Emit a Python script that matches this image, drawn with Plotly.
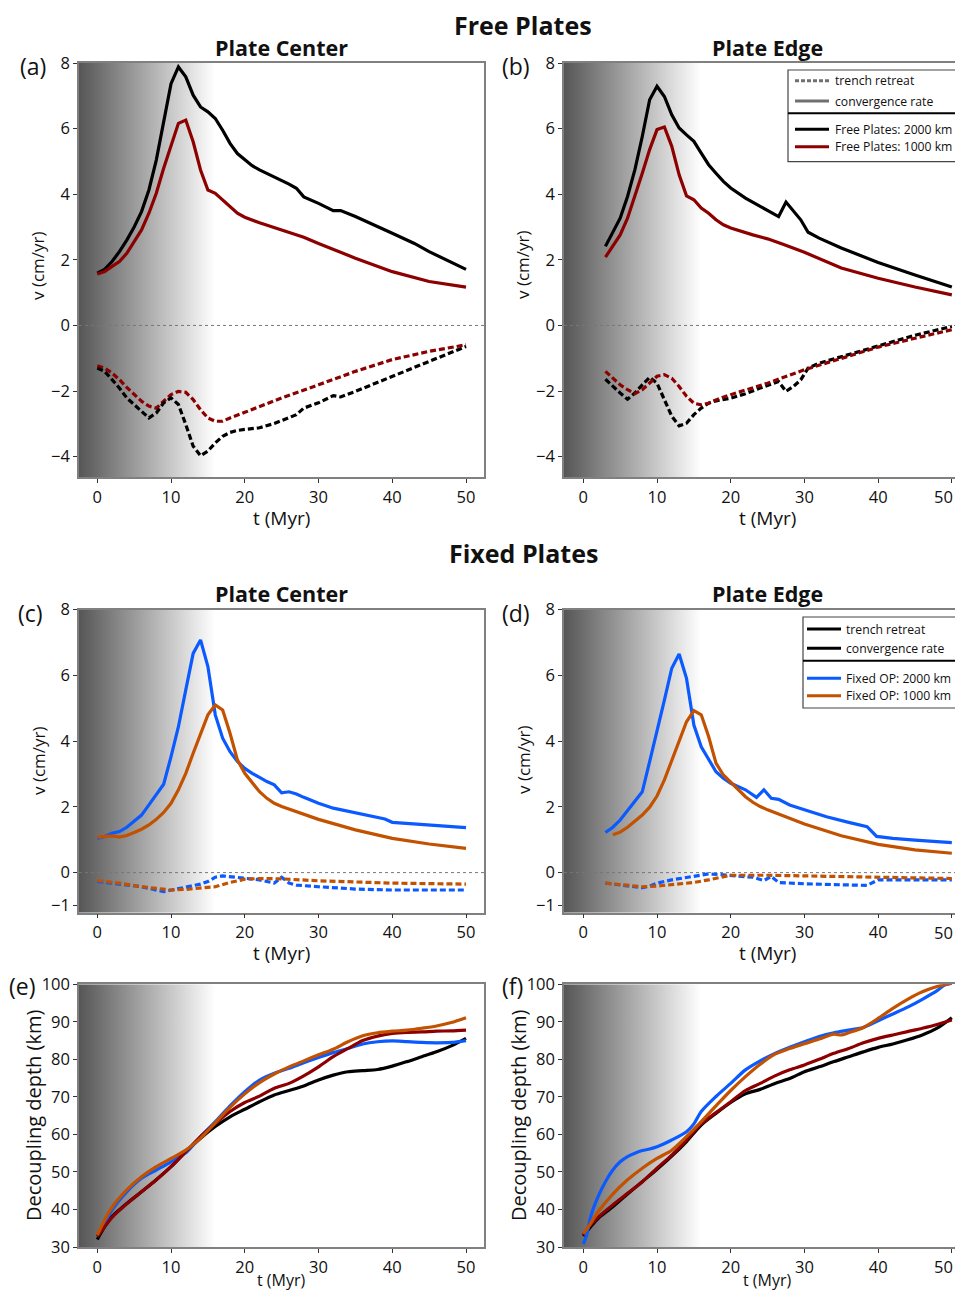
import plotly.graph_objects as go

W, H = 947, 1283   # fits inside the 963x1299 window together with the 8px page margin
OFF = 8            # page body margin compensation

# ---------------- DATA ----------------
# (a) Free plates, plate center
a_t_conv2000 = [0,1,2,3,4,5,6,7,8,9,10,11,12,13,14,15,16,17,18,19,20,21,22,24,26,27,28,30,32,33,35,40,43,45,50]
a_v_conv2000 = [1.59,1.71,1.95,2.25,2.6,3.0,3.47,4.13,5.04,6.26,7.37,7.88,7.58,7.02,6.66,6.51,6.31,5.95,5.55,5.24,5.04,4.87,4.74,4.53,4.31,4.18,3.92,3.72,3.5,3.5,3.32,2.81,2.5,2.25,1.71]
a_t_conv1000 = [0,1,2,3,4,5,6,7,8,9,10,11,12,13,14,15,16,17,18,19,20,22,25,28,30,35,40,45,50]
a_v_conv1000 = [1.57,1.64,1.8,1.95,2.2,2.56,2.91,3.42,4.03,4.79,5.45,6.16,6.26,5.6,4.74,4.13,4.03,3.82,3.62,3.42,3.3,3.13,2.91,2.69,2.5,2.05,1.64,1.34,1.17]
a_t_ret2000 = [0,1,2,3,4,5,6,7,8,9,10,11,12,13,14,15,16,17,18,19,20,22,24,26,27,28,30,32,33,35,40,45,50]
a_v_ret2000 = [-1.3,-1.4,-1.65,-1.91,-2.21,-2.41,-2.64,-2.82,-2.67,-2.36,-2.21,-2.41,-3.02,-3.68,-3.97,-3.83,-3.58,-3.38,-3.26,-3.2,-3.17,-3.12,-2.99,-2.82,-2.72,-2.52,-2.36,-2.14,-2.18,-2.01,-1.55,-1.1,-0.64]
a_t_ret1000 = [0,1,2,3,4,5,6,7,8,9,10,11,12,13,14,15,16,17,18,20,25,30,35,40,45,50]
a_v_ret1000 = [-1.23,-1.3,-1.45,-1.65,-1.89,-2.11,-2.31,-2.46,-2.52,-2.31,-2.11,-2.01,-2.04,-2.26,-2.57,-2.82,-2.92,-2.92,-2.82,-2.65,-2.21,-1.81,-1.4,-1.04,-0.79,-0.59]

# (b) Free plates, plate edge
b_t_conv2000 = [3,4,5,6,7,8,9,10,11,12,13,14,15,16,17,18,19,20,22,24,26.5,27.5,28.5,29.5,30.5,32,35,40,45,50]
b_v_conv2000 = [2.41,2.82,3.27,3.93,4.75,5.76,6.88,7.29,6.98,6.42,6.02,5.81,5.61,5.25,4.9,4.64,4.39,4.19,3.88,3.63,3.32,3.76,3.48,3.22,2.84,2.66,2.36,1.92,1.54,1.17]
b_t_conv1000 = [3,4,5,6,7,8,9,10,11,12,13,14,15,16,17,18,19,20,23,25,27,30,35,40,45,50]
b_v_conv1000 = [2.08,2.41,2.76,3.27,3.93,4.64,5.36,5.97,6.05,5.46,4.59,3.95,3.83,3.58,3.42,3.22,3.07,2.97,2.76,2.64,2.48,2.23,1.75,1.44,1.17,0.93]
b_t_ret2000 = [3,4,5,6,7,8,9,10,11,12,13,14,15,16,17,18,20,22,24,26.5,27.5,28.5,29.5,30.5,32,35,40,45,50]
b_v_ret2000 = [-1.64,-1.86,-2.06,-2.25,-2.06,-1.81,-1.58,-1.76,-2.27,-2.77,-3.06,-2.98,-2.72,-2.52,-2.37,-2.3,-2.22,-2.08,-1.91,-1.71,-2.01,-1.86,-1.66,-1.3,-1.15,-0.95,-0.64,-0.3,-0.03]
b_t_ret1000 = [3,4,5,6,7,8,9,10,11,12,13,14,15,16,17,18,20,25,30,35,40,45,50]
b_v_ret1000 = [-1.4,-1.61,-1.81,-1.96,-2.08,-1.96,-1.74,-1.55,-1.5,-1.61,-1.86,-2.16,-2.37,-2.42,-2.37,-2.27,-2.11,-1.76,-1.35,-1.0,-0.66,-0.39,-0.13]

# (c) Fixed plates, plate center
c_t_conv2000 = [0,1,2,3,4,5,6,7,8,9,10,11,12,13,14,15,16,17,18,19,20,21,22,23,24,25,26,27,28,30,32,35,38,39,40,42,45,50]
c_v_conv2000 = [1.04,1.1,1.2,1.25,1.38,1.55,1.75,2.06,2.39,2.69,3.53,4.44,5.56,6.67,7.08,6.27,4.8,4.09,3.68,3.38,3.17,3.02,2.9,2.77,2.67,2.43,2.46,2.39,2.29,2.11,1.96,1.81,1.68,1.63,1.53,1.5,1.45,1.37]
c_t_conv1000 = [0,1,2,3,4,5,6,7,8,9,10,11,12,13,14,15,16,17,18,19,20,21,22,23,24,25,27,30,35,40,45,50]
c_v_conv1000 = [1.08,1.1,1.12,1.08,1.13,1.22,1.32,1.45,1.62,1.83,2.11,2.52,3.02,3.63,4.24,4.8,5.1,4.95,4.24,3.43,3.02,2.72,2.46,2.26,2.11,2.01,1.86,1.62,1.3,1.04,0.87,0.74]
c_t_ret2000 = [0,3,6,9,10,12,14,15,16,17,18,20,22,24,25,26,27,30,35,40,50]
c_v_ret2000 = [-0.27,-0.34,-0.43,-0.58,-0.53,-0.43,-0.35,-0.27,-0.14,-0.1,-0.12,-0.18,-0.22,-0.32,-0.14,-0.32,-0.38,-0.43,-0.5,-0.53,-0.53]
c_t_ret1000 = [0,3,6,9,10,12,15,16,18,20,22,25,30,35,40,50]
c_v_ret1000 = [-0.24,-0.32,-0.43,-0.51,-0.53,-0.51,-0.46,-0.43,-0.3,-0.2,-0.18,-0.19,-0.25,-0.29,-0.32,-0.35]

# (d) Fixed plates, plate edge
d_t_conv2000 = [3,4,5,6,7,8,9,10,11,12,13,14,15,16,17,18,19,20,22,23.5,24.5,25.5,26.5,28,30,33,36,38.5,39.8,42,45,50]
d_v_conv2000 = [1.22,1.38,1.6,1.89,2.16,2.46,3.38,4.29,5.25,6.22,6.65,5.91,4.49,3.83,3.43,3.07,2.87,2.72,2.52,2.29,2.52,2.26,2.23,2.06,1.91,1.7,1.53,1.4,1.1,1.04,0.99,0.91]
d_t_conv1000 = [4,5,6,7,8,9,10,11,12,13,14,15,16,17,18,19,20,21,22,23,24,25,27,30,35,40,45,50]
d_v_conv1000 = [1.15,1.23,1.38,1.55,1.75,1.99,2.33,2.82,3.43,4.04,4.59,4.93,4.8,4.14,3.33,2.97,2.74,2.52,2.31,2.14,2.01,1.91,1.73,1.48,1.12,0.86,0.69,0.59]
d_t_ret2000 = [3,5,8,9,10,12,14,16,17,19,20,23,24.5,25.5,26.5,30,35,38.5,40,45,50]
d_v_ret2000 = [-0.32,-0.38,-0.46,-0.41,-0.32,-0.22,-0.14,-0.07,-0.04,-0.07,-0.09,-0.14,-0.24,-0.12,-0.3,-0.34,-0.37,-0.39,-0.22,-0.22,-0.22]
d_t_ret1000 = [3,5,8,10,13,15,17,19,20,25,30,40,50]
d_v_ret1000 = [-0.32,-0.37,-0.43,-0.41,-0.35,-0.3,-0.22,-0.12,-0.08,-0.08,-0.1,-0.14,-0.18]

# (e) decoupling depth, plate center
e_t = [0,1,2,4,6,8,10,12,14,16,18,20,22,24,26,28,30,32,34,36,38,40,42,44,46,48,50]
e_free2000 = [32.0,35.4,38.1,41.6,44.7,47.9,51.4,55.4,59.0,62.1,64.7,66.7,68.7,70.5,71.7,72.9,74.5,75.8,76.7,77.0,77.3,78.2,79.4,80.7,82.0,83.6,85.6]
e_free1000 = [32.8,35.4,37.9,41.5,44.7,47.9,51.4,55.4,59.4,62.9,66.1,68.5,70.2,72.3,73.6,75.6,78.0,80.7,82.9,85.0,86.2,86.9,87.2,87.3,87.5,87.6,87.8]
e_fixed2000 = [32.8,36.3,39.9,44.7,48.3,50.5,52.7,55.1,59.4,63.4,67.6,71.4,74.5,76.3,77.6,79.1,80.5,81.8,82.9,84.1,84.7,84.9,84.7,84.5,84.4,84.5,85.0]
e_fixed1000 = [33.2,37.2,40.6,45.2,48.7,51.4,53.6,55.8,59.0,63.1,67.2,70.8,73.8,76.1,78.0,79.6,81.2,82.7,84.7,86.3,87.1,87.5,87.8,88.3,88.9,89.8,91.1]

# (f) decoupling depth, plate edge
f_t = [0,1,2,4,6,8,10,12,14,16,18,20,22,24,26,28,30,32,34,36,38,40,42,44,46,48,50]
f_free2000 = [32.9,35.4,37.6,40.7,44.1,47.4,50.7,54.2,58.1,62.5,65.6,68.5,70.8,72.0,73.6,74.9,76.7,78.0,79.4,80.7,82.0,83.2,84.1,85.2,86.5,88.3,91.1]
f_free1000 = [33.2,35.9,37.9,41.2,44.3,47.4,51.0,54.5,58.5,62.8,65.8,68.7,71.7,73.6,75.6,77.2,78.5,80.0,81.6,82.9,84.4,85.6,86.5,87.4,88.3,89.3,90.5]
f_t_fixed2000 = [0,0.5,1,2,3,4,5,6,7,8,9,10,12,14,15,16,18,20,22,24,26,28,30,32,34,36,38,40,42,44,46,48,49,50]
f_fixed2000 = [30.8,33.6,38.1,43.4,47.4,50.5,52.7,54.1,55.0,55.7,56.1,56.7,58.5,60.7,62.8,66.1,70.1,73.6,77.2,79.6,81.6,83.2,84.7,86.1,87.1,87.8,88.5,90.3,92.1,93.9,96.0,98.3,99.8,100.3]
f_t_fixed1000 = [0,1,2,4,6,8,10,12,14,16,18,20,22,24,26,28,30,32,34,35,36,38,40,42,44,46,48,50]
f_fixed1000 = [33.5,36.3,39.4,44.1,47.9,51.0,53.6,55.8,59.4,63.4,67.6,71.7,75.4,78.7,81.4,82.9,84.2,85.4,86.7,86.5,87.1,88.5,90.9,93.6,96.0,98.0,99.4,100.3]

x_ticks = [0, 10, 20, 30, 40, 50]
x_labels = ["0", "10", "20", "30", "40", "50"]
v_ticks_free = [-4, -2, 0, 2, 4, 6, 8]
v_ticks_fixed = [-1, 0, 2, 4, 6, 8]
depth_ticks = [30, 40, 50, 60, 70, 80, 90, 100]

# ---------------- STYLE ----------------
FONT = "Open Sans"
BLACK = "#000000"
RED = "#8c0000"
BLUE = "#0a5aff"
ORANGE = "#c25100"
DASH = "6px,3px"


def px(x):
    return (x - OFF) / W


def py(y):
    return 1 - (y - OFF) / H


# panel geometry in screen pixels: (left, right, top, bottom), x range, y range
panels = {
    1: dict(l=79, r=484, t=63, b=477, xr=[-2.48, 52.44], yr=[-4.62, 8.0], yt=v_ticks_free, edge=False),
    2: dict(l=564, r=955, t=63, b=477, xr=[-2.62, 50.43], yr=[-4.62, 8.0], yt=v_ticks_free, edge=True),
    3: dict(l=79, r=484, t=609.7, b=912.7, xr=[-2.48, 52.44], yr=[-1.22, 8.0], yt=v_ticks_fixed, edge=False),
    4: dict(l=564, r=955, t=609.7, b=912.7, xr=[-2.62, 50.43], yr=[-1.22, 8.0], yt=v_ticks_fixed, edge=True),
    5: dict(l=79, r=484, t=984.3, b=1247, xr=[-2.48, 52.44], yr=[30, 100], yt=depth_ticks, edge=False),
    6: dict(l=564, r=955, t=984.3, b=1247, xr=[-2.62, 50.43], yr=[30, 100], yt=depth_ticks, edge=True),
}

fig = go.Figure()
layout = dict(
    width=W, height=H, margin=dict(l=0, r=0, t=0, b=0, autoexpand=False),
    paper_bgcolor="white", plot_bgcolor="white", showlegend=False,
    font=dict(family=FONT, color="#111"),
)
shapes = []
annotations = []

for i, p in panels.items():
    xa = "xaxis" if i == 1 else f"xaxis{i}"
    ya = "yaxis" if i == 1 else f"yaxis{i}"
    xs = "x" if i == 1 else f"x{i}"
    ys = "y" if i == 1 else f"y{i}"
    # on the right-hand panels the last label sits at the page edge; it is drawn separately below
    labels = x_labels[:-1] + [""] if p["edge"] else x_labels
    layout[xa] = dict(
        domain=[px(p["l"]), min(1.0, px(p["r"]))], anchor=ys, range=p["xr"],
        tickvals=x_ticks, ticktext=labels, ticks="outside", ticklen=4, tickcolor="#333",
        showline=True, mirror=True, linecolor="#808080", linewidth=1.5,
        showgrid=False, zeroline=False, automargin=False,
        tickfont=dict(size=16.5, family=FONT, color="#111"),
    )
    layout[ya] = dict(
        domain=[py(p["b"]), py(p["t"])], anchor=xs, range=p["yr"],
        tickvals=p["yt"], ticks="outside", ticklen=4, tickcolor="#333",
        showline=True, mirror=True, linecolor="#808080", linewidth=1.5,
        showgrid=False, zeroline=False, automargin=False,
        tickfont=dict(size=16.5, family=FONT, color="#111"),
    )
    if p["edge"]:
        annotations.append(dict(
            xref=xs, yref="paper", x=x_ticks[-1], y=py(p["b"] + 19.5), text=x_labels[-1],
            showarrow=False, xanchor="right", yanchor="middle", xshift=3,
            font=dict(family=FONT, size=16.5, color="#111"),
        ))
    # background gradient (time shading)
    fig.add_trace(go.Scatter(
        x=[p["xr"][0], 16, 16, p["xr"][0], p["xr"][0]],
        y=[p["yr"][0], p["yr"][0], p["yr"][1], p["yr"][1], p["yr"][0]],
        xaxis=xs, yaxis=ys, mode="lines", line=dict(width=0), fill="toself",
        fillgradient=dict(type="horizontal", colorscale=[[0, "rgb(86,86,86)"], [1, "rgb(255,255,255)"]],
                          start=p["xr"][0], stop=16),
        hoverinfo="skip",
    ))
    if i <= 4:
        shapes.append(dict(type="line", xref=f"{xs} domain", yref=ys, x0=0, x1=1, y0=0, y1=0,
                           line=dict(color="#777", width=1, dash="dot"), layer="above"))


def line(t, v, color, sub, dash=None, spline=False):
    xs = "x" if sub == 1 else f"x{sub}"
    ys = "y" if sub == 1 else f"y{sub}"
    ln = dict(color=color, width=3.2)
    if dash:
        ln["dash"] = dash
    if spline:
        ln["shape"] = "spline"
        ln["smoothing"] = 0.8
    fig.add_trace(go.Scatter(x=t, y=v, mode="lines", line=ln, xaxis=xs, yaxis=ys, hoverinfo="skip"))


# (a)
line(a_t_conv2000, a_v_conv2000, BLACK, 1)
line(a_t_conv1000, a_v_conv1000, RED, 1)
line(a_t_ret1000, a_v_ret1000, RED, 1, DASH)
line(a_t_ret2000, a_v_ret2000, BLACK, 1, DASH)
# (b)
line(b_t_conv2000, b_v_conv2000, BLACK, 2)
line(b_t_conv1000, b_v_conv1000, RED, 2)
line(b_t_ret2000, b_v_ret2000, BLACK, 2, DASH)
line(b_t_ret1000, b_v_ret1000, RED, 2, DASH)
# (c)
line(c_t_conv2000, c_v_conv2000, BLUE, 3)
line(c_t_conv1000, c_v_conv1000, ORANGE, 3)
line(c_t_ret2000, c_v_ret2000, BLUE, 3, DASH)
line(c_t_ret1000, c_v_ret1000, ORANGE, 3, DASH)
# (d)
line(d_t_conv2000, d_v_conv2000, BLUE, 4)
line(d_t_conv1000, d_v_conv1000, ORANGE, 4)
line(d_t_ret2000, d_v_ret2000, BLUE, 4, DASH)
line(d_t_ret1000, d_v_ret1000, ORANGE, 4, DASH)
# (e)
line(e_t, e_free2000, BLACK, 5, spline=True)
line(e_t, e_fixed2000, BLUE, 5, spline=True)
line(e_t, e_free1000, RED, 5, spline=True)
line(e_t, e_fixed1000, ORANGE, 5, spline=True)
# (f)
line(f_t, f_free2000, BLACK, 6, spline=True)
line(f_t, f_free1000, RED, 6, spline=True)
line(f_t_fixed2000, f_fixed2000, BLUE, 6, spline=True)
line(f_t_fixed1000, f_fixed1000, ORANGE, 6, spline=True)


def text(x, y, s, size, bold=False, angle=0, xanchor="center", color="#111"):
    annotations.append(dict(
        xref="paper", yref="paper", x=px(x), y=py(y), text=f"<b>{s}</b>" if bold else s,
        showarrow=False, xanchor=xanchor, yanchor="middle", textangle=angle,
        font=dict(family=FONT, size=size, color=color),
    ))


# headings
text(523, 25, "Free Plates", 25, bold=True)
text(523, 553, "Fixed Plates", 25, bold=True)
text(281, 47, "Plate Center", 21.5, bold=True)
text(767, 47, "Plate Edge", 21.5, bold=True)
text(281, 593, "Plate Center", 21.5, bold=True)
text(767, 593, "Plate Edge", 21.5, bold=True)
# panel labels
text(33, 66, "(a)", 23)
text(516, 66, "(b)", 23)
text(30, 613, "(c)", 23)
text(516, 613, "(d)", 23)
text(22, 986, "(e)", 23)
text(512, 986, "(f)", 23)
# axis titles
text(38, 265, "v (cm/yr)", 17, angle=-90)
text(523, 265, "v (cm/yr)", 17, angle=-90)
text(38, 760, "v (cm/yr)", 17, angle=-90)
text(523, 760, "v (cm/yr)", 17, angle=-90)
text(33, 1116, "Decoupling depth (km)", 20, angle=-90)
text(518, 1116, "Decoupling depth (km)", 20, angle=-90)
text(281, 518, "t (Myr)", 19)
text(767, 518, "t (Myr)", 19)
text(281, 953, "t (Myr)", 19)
text(767, 953, "t (Myr)", 19)
text(281, 1279.5, "t (Myr)", 16)
text(767, 1279.5, "t (Myr)", 16)


# legends (drawn)
def legend_box(x0, y0, y1, ysep, items, xl0, xl1, xt):
    shapes.append(dict(type="rect", xref="paper", yref="paper", x0=px(x0), x1=px(975), y0=py(y1), y1=py(y0),
                       line=dict(color="#444", width=1.2), fillcolor="white", layer="above"))
    shapes.append(dict(type="line", xref="paper", yref="paper", x0=px(x0), x1=px(975), y0=py(ysep), y1=py(ysep),
                       line=dict(color="#000", width=2), layer="above"))
    for (yy, label, color, dash) in items:
        shapes.append(dict(type="line", xref="paper", yref="paper", x0=px(xl0), x1=px(xl1), y0=py(yy), y1=py(yy),
                           line=dict(color=color, width=3, dash=dash), layer="above"))
        text(xt, yy, label, 12.2, xanchor="left")


legend_box(788, 70, 161.7, 113.3, [
    (80.7, "trench retreat", "#707070", "4px,2px"),
    (101, "convergence rate", "#707070", "solid"),
    (129.3, "Free Plates: 2000 km", BLACK, "solid"),
    (146.7, "Free Plates: 1000 km", RED, "solid"),
], 795, 829, 833)
legend_box(803, 617, 708, 660.7, [
    (629, "trench retreat", BLACK, "solid"),
    (648.3, "convergence rate", BLACK, "solid"),
    (678.3, "Fixed OP: 2000 km", BLUE, "solid"),
    (695.7, "Fixed OP: 1000 km", ORANGE, "solid"),
], 807, 841, 844)

layout["shapes"] = shapes
layout["annotations"] = annotations
fig.update_layout(**layout)
fig.write_html("out.html")
